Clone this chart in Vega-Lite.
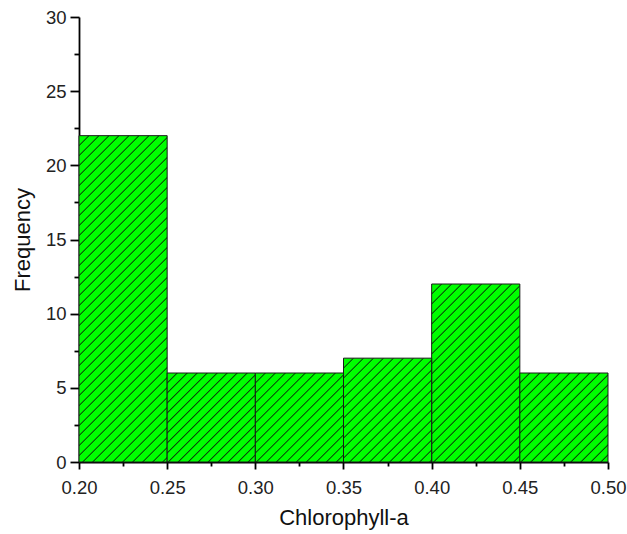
{
  "$schema": "https://vega.github.io/schema/vega-lite/v6.json",
  "autosize": "none",
  "padding": {"left": 79, "top": 17, "right": 19, "bottom": 72},
  "width": 529,
  "height": 445,
  "background": "white",
  "config": {
    "view": {"stroke": null},
    "font": "Liberation Sans"
  },
  "data": {
    "values": [
      {"bin_start": 0.20, "bin_end": 0.25, "count": 22},
      {"bin_start": 0.25, "bin_end": 0.30, "count": 6},
      {"bin_start": 0.30, "bin_end": 0.35, "count": 6},
      {"bin_start": 0.35, "bin_end": 0.40, "count": 7},
      {"bin_start": 0.40, "bin_end": 0.45, "count": 12},
      {"bin_start": 0.45, "bin_end": 0.50, "count": 6}
    ]
  },
  "encoding": {
    "x": {"field": "bin_start", "type": "quantitative", "scale": {"domain": [0.2, 0.5], "nice": false, "zero": false}, "axis": null},
    "x2": {"field": "bin_end"},
    "y": {"field": "count", "type": "quantitative", "scale": {"domain": [0, 30], "nice": false, "zero": true}, "axis": null},
    "y2": {"datum": 0}
  },
  "resolve": {"axis": {"x": "independent", "y": "independent"}},
  "layer": [
    {
      "transform": [{"filter": "datum.count == 22"}],
      "mark": {"type": "bar", "stroke": "#1a1a1a", "strokeWidth": 1, "fill": {"gradient": "linear", "x1": 0, "y1": 0, "x2": 0.32406, "y2": 1.19947, "stops": [
        {"offset":0,"color":"#00ff00"},
        {"offset":0.02071,"color":"#00ff00"},{"offset":0.02381,"color":"#0a300a"},{"offset":0.02691,"color":"#00ff00"},
        {"offset":0.04452,"color":"#00ff00"},{"offset":0.04762,"color":"#0a300a"},{"offset":0.05072,"color":"#00ff00"},
        {"offset":0.06833,"color":"#00ff00"},{"offset":0.07143,"color":"#0a300a"},{"offset":0.07453,"color":"#00ff00"},
        {"offset":0.09214,"color":"#00ff00"},{"offset":0.09524,"color":"#0a300a"},{"offset":0.09834,"color":"#00ff00"},
        {"offset":0.11595,"color":"#00ff00"},{"offset":0.11905,"color":"#0a300a"},{"offset":0.12215,"color":"#00ff00"},
        {"offset":0.13976,"color":"#00ff00"},{"offset":0.14286,"color":"#0a300a"},{"offset":0.14596,"color":"#00ff00"},
        {"offset":0.16357,"color":"#00ff00"},{"offset":0.16667,"color":"#0a300a"},{"offset":0.16977,"color":"#00ff00"},
        {"offset":0.18738,"color":"#00ff00"},{"offset":0.19048,"color":"#0a300a"},{"offset":0.19358,"color":"#00ff00"},
        {"offset":0.21119,"color":"#00ff00"},{"offset":0.21429,"color":"#0a300a"},{"offset":0.21739,"color":"#00ff00"},
        {"offset":0.23500,"color":"#00ff00"},{"offset":0.23810,"color":"#0a300a"},{"offset":0.24120,"color":"#00ff00"},
        {"offset":0.25880,"color":"#00ff00"},{"offset":0.26190,"color":"#0a300a"},{"offset":0.26500,"color":"#00ff00"},
        {"offset":0.28261,"color":"#00ff00"},{"offset":0.28571,"color":"#0a300a"},{"offset":0.28881,"color":"#00ff00"},
        {"offset":0.30642,"color":"#00ff00"},{"offset":0.30952,"color":"#0a300a"},{"offset":0.31262,"color":"#00ff00"},
        {"offset":0.33023,"color":"#00ff00"},{"offset":0.33333,"color":"#0a300a"},{"offset":0.33643,"color":"#00ff00"},
        {"offset":0.35404,"color":"#00ff00"},{"offset":0.35714,"color":"#0a300a"},{"offset":0.36024,"color":"#00ff00"},
        {"offset":0.37785,"color":"#00ff00"},{"offset":0.38095,"color":"#0a300a"},{"offset":0.38405,"color":"#00ff00"},
        {"offset":0.40166,"color":"#00ff00"},{"offset":0.40476,"color":"#0a300a"},{"offset":0.40786,"color":"#00ff00"},
        {"offset":0.42547,"color":"#00ff00"},{"offset":0.42857,"color":"#0a300a"},{"offset":0.43167,"color":"#00ff00"},
        {"offset":0.44928,"color":"#00ff00"},{"offset":0.45238,"color":"#0a300a"},{"offset":0.45548,"color":"#00ff00"},
        {"offset":0.47309,"color":"#00ff00"},{"offset":0.47619,"color":"#0a300a"},{"offset":0.47929,"color":"#00ff00"},
        {"offset":0.49690,"color":"#00ff00"},{"offset":0.50000,"color":"#0a300a"},{"offset":0.50310,"color":"#00ff00"},
        {"offset":0.52071,"color":"#00ff00"},{"offset":0.52381,"color":"#0a300a"},{"offset":0.52691,"color":"#00ff00"},
        {"offset":0.54452,"color":"#00ff00"},{"offset":0.54762,"color":"#0a300a"},{"offset":0.55072,"color":"#00ff00"},
        {"offset":0.56833,"color":"#00ff00"},{"offset":0.57143,"color":"#0a300a"},{"offset":0.57453,"color":"#00ff00"},
        {"offset":0.59214,"color":"#00ff00"},{"offset":0.59524,"color":"#0a300a"},{"offset":0.59834,"color":"#00ff00"},
        {"offset":0.61595,"color":"#00ff00"},{"offset":0.61905,"color":"#0a300a"},{"offset":0.62215,"color":"#00ff00"},
        {"offset":0.63976,"color":"#00ff00"},{"offset":0.64286,"color":"#0a300a"},{"offset":0.64596,"color":"#00ff00"},
        {"offset":0.66357,"color":"#00ff00"},{"offset":0.66667,"color":"#0a300a"},{"offset":0.66977,"color":"#00ff00"},
        {"offset":0.68738,"color":"#00ff00"},{"offset":0.69048,"color":"#0a300a"},{"offset":0.69358,"color":"#00ff00"},
        {"offset":0.71119,"color":"#00ff00"},{"offset":0.71429,"color":"#0a300a"},{"offset":0.71739,"color":"#00ff00"},
        {"offset":0.73500,"color":"#00ff00"},{"offset":0.73810,"color":"#0a300a"},{"offset":0.74120,"color":"#00ff00"},
        {"offset":0.75880,"color":"#00ff00"},{"offset":0.76190,"color":"#0a300a"},{"offset":0.76500,"color":"#00ff00"},
        {"offset":0.78261,"color":"#00ff00"},{"offset":0.78571,"color":"#0a300a"},{"offset":0.78881,"color":"#00ff00"},
        {"offset":0.80642,"color":"#00ff00"},{"offset":0.80952,"color":"#0a300a"},{"offset":0.81262,"color":"#00ff00"},
        {"offset":0.83023,"color":"#00ff00"},{"offset":0.83333,"color":"#0a300a"},{"offset":0.83643,"color":"#00ff00"},
        {"offset":0.85404,"color":"#00ff00"},{"offset":0.85714,"color":"#0a300a"},{"offset":0.86024,"color":"#00ff00"},
        {"offset":0.87785,"color":"#00ff00"},{"offset":0.88095,"color":"#0a300a"},{"offset":0.88405,"color":"#00ff00"},
        {"offset":0.90166,"color":"#00ff00"},{"offset":0.90476,"color":"#0a300a"},{"offset":0.90786,"color":"#00ff00"},
        {"offset":0.92547,"color":"#00ff00"},{"offset":0.92857,"color":"#0a300a"},{"offset":0.93167,"color":"#00ff00"},
        {"offset":0.94928,"color":"#00ff00"},{"offset":0.95238,"color":"#0a300a"},{"offset":0.95548,"color":"#00ff00"},
        {"offset":0.97309,"color":"#00ff00"},{"offset":0.97619,"color":"#0a300a"},{"offset":0.97929,"color":"#00ff00"},
        {"offset":1,"color":"#00ff00"}
      ]}}
    },
    {
      "transform": [{"filter": "datum.count == 12"}],
      "mark": {"type": "bar", "stroke": "#1a1a1a", "strokeWidth": 1, "fill": {"gradient": "linear", "x1": 0, "y1": 0, "x2": 0.93848, "y2": 1.89470, "stops": [
        {"offset":0,"color":"#00ff00"},
        {"offset":0.02071,"color":"#00ff00"},{"offset":0.02381,"color":"#0a300a"},{"offset":0.02691,"color":"#00ff00"},
        {"offset":0.04452,"color":"#00ff00"},{"offset":0.04762,"color":"#0a300a"},{"offset":0.05072,"color":"#00ff00"},
        {"offset":0.06833,"color":"#00ff00"},{"offset":0.07143,"color":"#0a300a"},{"offset":0.07453,"color":"#00ff00"},
        {"offset":0.09214,"color":"#00ff00"},{"offset":0.09524,"color":"#0a300a"},{"offset":0.09834,"color":"#00ff00"},
        {"offset":0.11595,"color":"#00ff00"},{"offset":0.11905,"color":"#0a300a"},{"offset":0.12215,"color":"#00ff00"},
        {"offset":0.13976,"color":"#00ff00"},{"offset":0.14286,"color":"#0a300a"},{"offset":0.14596,"color":"#00ff00"},
        {"offset":0.16357,"color":"#00ff00"},{"offset":0.16667,"color":"#0a300a"},{"offset":0.16977,"color":"#00ff00"},
        {"offset":0.18738,"color":"#00ff00"},{"offset":0.19048,"color":"#0a300a"},{"offset":0.19358,"color":"#00ff00"},
        {"offset":0.21119,"color":"#00ff00"},{"offset":0.21429,"color":"#0a300a"},{"offset":0.21739,"color":"#00ff00"},
        {"offset":0.23500,"color":"#00ff00"},{"offset":0.23810,"color":"#0a300a"},{"offset":0.24120,"color":"#00ff00"},
        {"offset":0.25880,"color":"#00ff00"},{"offset":0.26190,"color":"#0a300a"},{"offset":0.26500,"color":"#00ff00"},
        {"offset":0.28261,"color":"#00ff00"},{"offset":0.28571,"color":"#0a300a"},{"offset":0.28881,"color":"#00ff00"},
        {"offset":0.30642,"color":"#00ff00"},{"offset":0.30952,"color":"#0a300a"},{"offset":0.31262,"color":"#00ff00"},
        {"offset":0.33023,"color":"#00ff00"},{"offset":0.33333,"color":"#0a300a"},{"offset":0.33643,"color":"#00ff00"},
        {"offset":0.35404,"color":"#00ff00"},{"offset":0.35714,"color":"#0a300a"},{"offset":0.36024,"color":"#00ff00"},
        {"offset":0.37785,"color":"#00ff00"},{"offset":0.38095,"color":"#0a300a"},{"offset":0.38405,"color":"#00ff00"},
        {"offset":0.40166,"color":"#00ff00"},{"offset":0.40476,"color":"#0a300a"},{"offset":0.40786,"color":"#00ff00"},
        {"offset":0.42547,"color":"#00ff00"},{"offset":0.42857,"color":"#0a300a"},{"offset":0.43167,"color":"#00ff00"},
        {"offset":0.44928,"color":"#00ff00"},{"offset":0.45238,"color":"#0a300a"},{"offset":0.45548,"color":"#00ff00"},
        {"offset":0.47309,"color":"#00ff00"},{"offset":0.47619,"color":"#0a300a"},{"offset":0.47929,"color":"#00ff00"},
        {"offset":0.49690,"color":"#00ff00"},{"offset":0.50000,"color":"#0a300a"},{"offset":0.50310,"color":"#00ff00"},
        {"offset":0.52071,"color":"#00ff00"},{"offset":0.52381,"color":"#0a300a"},{"offset":0.52691,"color":"#00ff00"},
        {"offset":0.54452,"color":"#00ff00"},{"offset":0.54762,"color":"#0a300a"},{"offset":0.55072,"color":"#00ff00"},
        {"offset":0.56833,"color":"#00ff00"},{"offset":0.57143,"color":"#0a300a"},{"offset":0.57453,"color":"#00ff00"},
        {"offset":0.59214,"color":"#00ff00"},{"offset":0.59524,"color":"#0a300a"},{"offset":0.59834,"color":"#00ff00"},
        {"offset":0.61595,"color":"#00ff00"},{"offset":0.61905,"color":"#0a300a"},{"offset":0.62215,"color":"#00ff00"},
        {"offset":1,"color":"#00ff00"}
      ]}}
    },
    {
      "transform": [{"filter": "datum.count == 7"}],
      "mark": {"type": "bar", "stroke": "#1a1a1a", "strokeWidth": 1, "fill": {"gradient": "linear", "x1": 0, "y1": 0, "x2": 1.99570, "y2": 2.35030, "stops": [
        {"offset":0,"color":"#00ff00"},
        {"offset":0.02071,"color":"#00ff00"},{"offset":0.02381,"color":"#0a300a"},{"offset":0.02691,"color":"#00ff00"},
        {"offset":0.04452,"color":"#00ff00"},{"offset":0.04762,"color":"#0a300a"},{"offset":0.05072,"color":"#00ff00"},
        {"offset":0.06833,"color":"#00ff00"},{"offset":0.07143,"color":"#0a300a"},{"offset":0.07453,"color":"#00ff00"},
        {"offset":0.09214,"color":"#00ff00"},{"offset":0.09524,"color":"#0a300a"},{"offset":0.09834,"color":"#00ff00"},
        {"offset":0.11595,"color":"#00ff00"},{"offset":0.11905,"color":"#0a300a"},{"offset":0.12215,"color":"#00ff00"},
        {"offset":0.13976,"color":"#00ff00"},{"offset":0.14286,"color":"#0a300a"},{"offset":0.14596,"color":"#00ff00"},
        {"offset":0.16357,"color":"#00ff00"},{"offset":0.16667,"color":"#0a300a"},{"offset":0.16977,"color":"#00ff00"},
        {"offset":0.18738,"color":"#00ff00"},{"offset":0.19048,"color":"#0a300a"},{"offset":0.19358,"color":"#00ff00"},
        {"offset":0.21119,"color":"#00ff00"},{"offset":0.21429,"color":"#0a300a"},{"offset":0.21739,"color":"#00ff00"},
        {"offset":0.23500,"color":"#00ff00"},{"offset":0.23810,"color":"#0a300a"},{"offset":0.24120,"color":"#00ff00"},
        {"offset":0.25880,"color":"#00ff00"},{"offset":0.26190,"color":"#0a300a"},{"offset":0.26500,"color":"#00ff00"},
        {"offset":0.28261,"color":"#00ff00"},{"offset":0.28571,"color":"#0a300a"},{"offset":0.28881,"color":"#00ff00"},
        {"offset":0.30642,"color":"#00ff00"},{"offset":0.30952,"color":"#0a300a"},{"offset":0.31262,"color":"#00ff00"},
        {"offset":0.33023,"color":"#00ff00"},{"offset":0.33333,"color":"#0a300a"},{"offset":0.33643,"color":"#00ff00"},
        {"offset":0.35404,"color":"#00ff00"},{"offset":0.35714,"color":"#0a300a"},{"offset":0.36024,"color":"#00ff00"},
        {"offset":0.37785,"color":"#00ff00"},{"offset":0.38095,"color":"#0a300a"},{"offset":0.38405,"color":"#00ff00"},
        {"offset":0.40166,"color":"#00ff00"},{"offset":0.40476,"color":"#0a300a"},{"offset":0.40786,"color":"#00ff00"},
        {"offset":0.42547,"color":"#00ff00"},{"offset":0.42857,"color":"#0a300a"},{"offset":0.43167,"color":"#00ff00"},
        {"offset":0.44928,"color":"#00ff00"},{"offset":0.45238,"color":"#0a300a"},{"offset":0.45548,"color":"#00ff00"},
        {"offset":1,"color":"#00ff00"}
      ]}}
    },
    {
      "transform": [{"filter": "datum.count == 6"}],
      "mark": {"type": "bar", "stroke": "#1a1a1a", "strokeWidth": 1, "fill": {"gradient": "linear", "x1": 0, "y1": 0, "x2": 2.35945, "y2": 2.38173, "stops": [
        {"offset":0,"color":"#00ff00"},
        {"offset":0.02071,"color":"#00ff00"},{"offset":0.02381,"color":"#0a300a"},{"offset":0.02691,"color":"#00ff00"},
        {"offset":0.04452,"color":"#00ff00"},{"offset":0.04762,"color":"#0a300a"},{"offset":0.05072,"color":"#00ff00"},
        {"offset":0.06833,"color":"#00ff00"},{"offset":0.07143,"color":"#0a300a"},{"offset":0.07453,"color":"#00ff00"},
        {"offset":0.09214,"color":"#00ff00"},{"offset":0.09524,"color":"#0a300a"},{"offset":0.09834,"color":"#00ff00"},
        {"offset":0.11595,"color":"#00ff00"},{"offset":0.11905,"color":"#0a300a"},{"offset":0.12215,"color":"#00ff00"},
        {"offset":0.13976,"color":"#00ff00"},{"offset":0.14286,"color":"#0a300a"},{"offset":0.14596,"color":"#00ff00"},
        {"offset":0.16357,"color":"#00ff00"},{"offset":0.16667,"color":"#0a300a"},{"offset":0.16977,"color":"#00ff00"},
        {"offset":0.18738,"color":"#00ff00"},{"offset":0.19048,"color":"#0a300a"},{"offset":0.19358,"color":"#00ff00"},
        {"offset":0.21119,"color":"#00ff00"},{"offset":0.21429,"color":"#0a300a"},{"offset":0.21739,"color":"#00ff00"},
        {"offset":0.23500,"color":"#00ff00"},{"offset":0.23810,"color":"#0a300a"},{"offset":0.24120,"color":"#00ff00"},
        {"offset":0.25880,"color":"#00ff00"},{"offset":0.26190,"color":"#0a300a"},{"offset":0.26500,"color":"#00ff00"},
        {"offset":0.28261,"color":"#00ff00"},{"offset":0.28571,"color":"#0a300a"},{"offset":0.28881,"color":"#00ff00"},
        {"offset":0.30642,"color":"#00ff00"},{"offset":0.30952,"color":"#0a300a"},{"offset":0.31262,"color":"#00ff00"},
        {"offset":0.33023,"color":"#00ff00"},{"offset":0.33333,"color":"#0a300a"},{"offset":0.33643,"color":"#00ff00"},
        {"offset":0.35404,"color":"#00ff00"},{"offset":0.35714,"color":"#0a300a"},{"offset":0.36024,"color":"#00ff00"},
        {"offset":0.37785,"color":"#00ff00"},{"offset":0.38095,"color":"#0a300a"},{"offset":0.38405,"color":"#00ff00"},
        {"offset":0.40166,"color":"#00ff00"},{"offset":0.40476,"color":"#0a300a"},{"offset":0.40786,"color":"#00ff00"},
        {"offset":0.42547,"color":"#00ff00"},{"offset":0.42857,"color":"#0a300a"},{"offset":0.43167,"color":"#00ff00"},
        {"offset":1,"color":"#00ff00"}
      ]}}
    },
    {
      "mark": {"type": "bar", "opacity": 0},
      "encoding": {
        "x": {
          "field": "bin_start",
          "type": "quantitative",
          "axis": {
            "orient": "bottom",
            "title": null,
            "values": [0.225, 0.275, 0.325, 0.375, 0.425, 0.475],
            "labels": false,
            "domain": false,
            "grid": false,
            "tickColor": "#000000",
            "tickWidth": 1.8,
            "tickSize": 4
          }
        },
        "y": {
          "field": "count",
          "type": "quantitative",
          "axis": {
            "orient": "left",
            "title": null,
            "values": [2.5, 7.5, 12.5, 17.5, 22.5, 27.5],
            "labels": false,
            "domain": false,
            "grid": false,
            "tickColor": "#000000",
            "tickWidth": 1.8,
            "tickSize": 5
          }
        }
      }
    },
    {
      "mark": {"type": "bar", "opacity": 0},
      "encoding": {
        "x": {
          "field": "bin_start",
          "type": "quantitative",
          "axis": {
            "orient": "bottom",
            "title": "Chlorophyll-a",
            "values": [0.2, 0.25, 0.3, 0.35, 0.4, 0.45, 0.5],
            "format": ".2f",
            "grid": false,
            "domainColor": "#000000",
            "domainWidth": 1.8,
            "tickColor": "#000000",
            "tickWidth": 1.8,
            "tickSize": 7,
            "labelPadding": 9,
            "labelFontSize": 18.5,
            "labelColor": "#222222",
            "labelFlush": false,
            "labelOverlap": false,
            "titleFontSize": 22,
            "titleFontWeight": "normal",
            "titleColor": "#111111",
            "titlePadding": 11
          }
        },
        "y": {
          "field": "count",
          "type": "quantitative",
          "axis": {
            "orient": "left",
            "title": "Frequency",
            "values": [0, 5, 10, 15, 20, 25, 30],
            "format": "d",
            "grid": false,
            "domainColor": "#000000",
            "domainWidth": 1.8,
            "tickColor": "#000000",
            "tickWidth": 1.8,
            "tickSize": 9,
            "labelPadding": 4,
            "labelFontSize": 18.5,
            "labelColor": "#222222",
            "labelFlush": false,
            "labelOverlap": false,
            "titleFontSize": 22,
            "titleFontWeight": "normal",
            "titleColor": "#111111",
            "titlePadding": 11
          }
        }
      }
    }
  ]
}
